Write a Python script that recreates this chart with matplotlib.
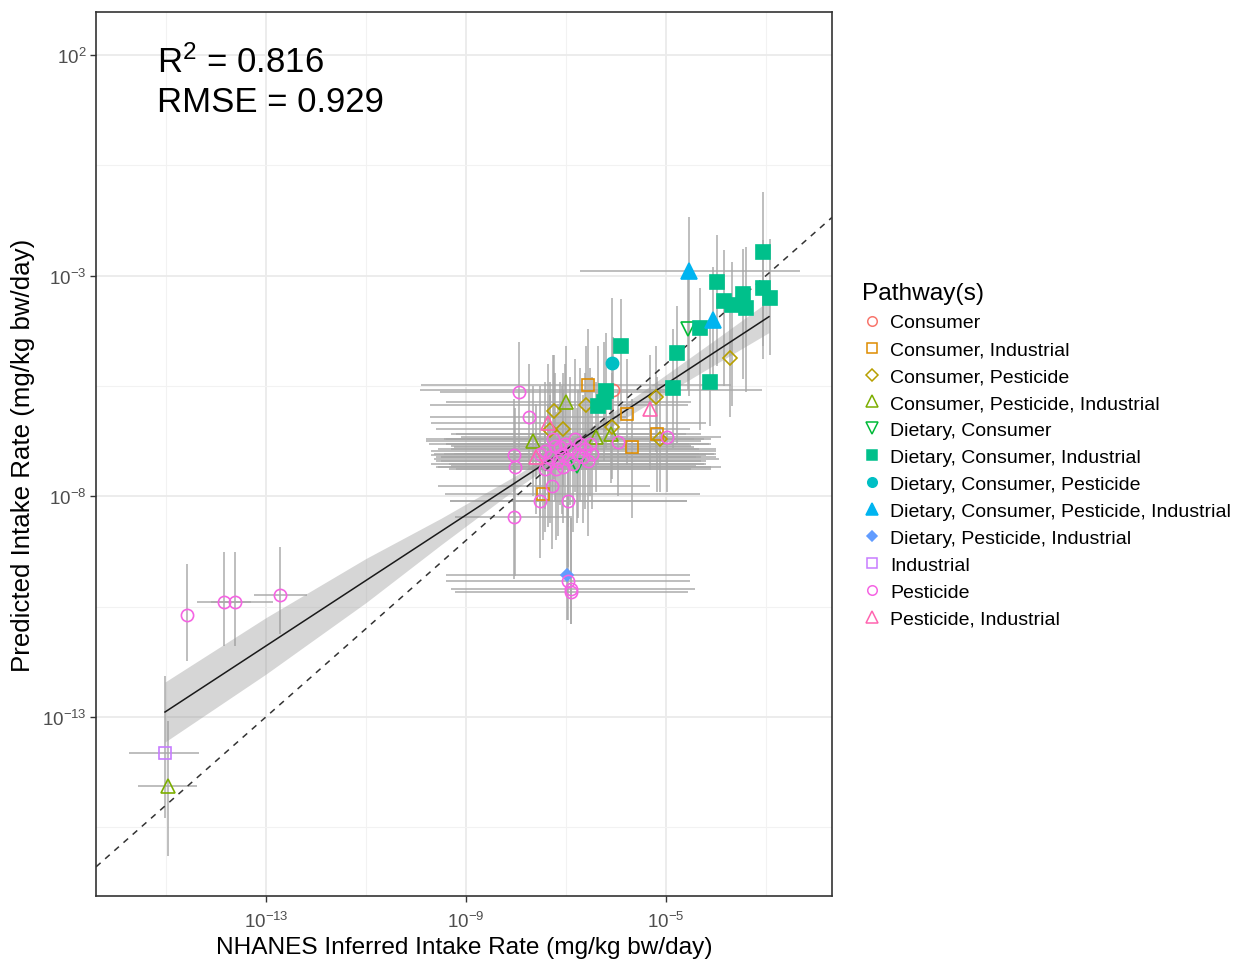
import numpy as np
import matplotlib
matplotlib.use('Agg')
import matplotlib.pyplot as plt
from matplotlib.lines import Line2D

plt.rcParams['font.family'] = ['Liberation Sans', 'DejaVu Sans']
plt.rcParams['mathtext.fontset'] = 'custom'
plt.rcParams['mathtext.rm'] = 'Liberation Sans'
plt.rcParams['mathtext.it'] = 'Liberation Sans:italic'
plt.rcParams['mathtext.bf'] = 'Liberation Sans:bold'

# ---------------- categories ----------------
pathway_labels = ['Consumer', 'Consumer, Industrial', 'Consumer, Pesticide',
                  'Consumer, Pesticide, Industrial', 'Dietary, Consumer',
                  'Dietary, Consumer, Industrial', 'Dietary, Consumer, Pesticide',
                  'Dietary, Consumer, Pesticide, Industrial', 'Dietary, Pesticide, Industrial',
                  'Industrial', 'Pesticide', 'Pesticide, Industrial']
pathway_codes = ['C', 'CI', 'CP', 'CPI', 'DC', 'DCI', 'DCP', 'DCPI', 'DPI', 'I', 'P', 'PI']

# ---------------- data (log10 mg/kg bw/day) ----------------
nan = np.nan
point_pathway = [
    'P', 'P', 'P', 'P', 'I', 'CPI',
    'DCI', 'DCI', 'DCI', 'DCI', 'DCI', 'DCI', 'DCI', 'DCI', 'DCI', 'DCI', 'DCI', 'DCI', 'DCI', 'DCI', 'DCI', 'DCI',
    'DCPI', 'DCPI', 'DC', 'DC', 'DCP',
    'CP', 'CP', 'CP', 'CP', 'CP', 'CP', 'CP', 'CP',
    'CPI', 'CPI', 'CPI', 'CPI',
    'PI', 'PI', 'PI',
    'CI', 'CI', 'CI', 'CI', 'CI',
    'C', 'DPI',
    'P', 'P', 'P', 'P', 'P', 'P', 'P', 'P', 'P', 'P', 'P', 'P', 'P',
    'P', 'P', 'P', 'P', 'P', 'P', 'P', 'P', 'P', 'P', 'P', 'P',
    'P', 'P', 'P', 'P', 'P', 'P', 'P', 'P', 'P', 'P', 'P', 'P',
]
nhanes_log = [
    -14.58, -13.84, -13.62, -12.72, -15.02, -14.96,
    -3.06, -3.06, -2.92, -3.46, -3.40, -3.68, -3.84, -3.98, -4.32, -4.78, -4.12, -4.86, -5.90, -6.20, -6.24, -6.36,
    -4.54, -4.06, -4.56, -6.78, -6.08,
    -3.72, -5.20, -6.60, -7.24, -7.06, -6.08, -5.12, -7.32,
    -7.00, -7.66, -6.40, -6.10,
    -5.32, -7.36, -7.60,
    -6.56, -5.78, -5.68, -5.18, -7.46,
    -6.06, -6.98,
    -7.94, -7.74, -4.98, -5.96, -8.04, -8.02, -7.28, -7.52, -6.96, -8.04, -6.96, -6.90, -6.90,
    -7.42, -7.32, -7.22, -7.16, -7.08, -7.02, -6.96, -6.92, -6.86, -6.82, -6.76, -6.72,
    -6.66, -6.62, -6.56, -6.52, -7.36, -7.20, -7.06, -7.52, -7.42, -6.48, -7.26, -7.12,
]
predicted_log = [
    -10.69, -10.39, -10.39, -10.23, -13.82, -14.56,
    -2.46, -3.29, -3.50, -3.41, -3.73, -3.66, -3.57, -3.14, -4.18, -4.75, -5.40, -5.54, -4.59, -5.61, -5.86, -5.95,
    -2.89, -4.00, -4.20, -7.31, -4.97,
    -4.86, -5.74, -5.93, -6.06, -6.47, -6.42, -6.70, -6.50,
    -5.86, -6.74, -6.65, -6.58,
    -6.02, -6.33, -7.10,
    -5.47, -6.13, -6.88, -6.58, -7.94,
    -5.59, -9.78,
    -5.63, -6.20, -6.65, -6.76, -7.06, -7.33, -7.76, -8.10, -8.10, -8.46, -9.92, -10.10, -10.17,
    -6.97, -7.10, -6.85, -7.20, -7.04, -6.81, -7.15, -6.92, -7.26, -6.70, -7.04, -6.81,
    -7.10, -6.92, -7.20, -6.81, -7.26, -7.38, -7.33, -7.04, -7.38, -7.04, -6.70, -6.88,
]
nhanes_lo = [
    nan, -14.38, -14.10, -13.24, -15.74, -15.56,
    nan, nan, nan, nan, nan, nan, nan, nan, nan, nan, nan, nan, nan, nan, -9.40, nan,
    -6.72, nan, nan, -9.30, nan,
    nan, nan, -9.72, nan, -9.60, nan, -9.40, nan,
    nan, -9.80, nan, -9.20,
    nan, -9.70, -9.50,
    -9.90, nan, nan, -9.30, -9.42,
    -9.92, -9.40,
    -9.52, -9.72, -9.10, nan, -9.70, -9.60, -9.56, -9.32, -9.32, -9.22, -9.40, -9.30, -9.22,
    -9.70, -9.50, -9.30, -9.60, -9.20, -9.40, -9.65, -9.55, -9.35, -9.45, -9.25, -9.75,
    -9.60, -9.30, -9.50, -9.40, -9.70, -9.20, -9.55, -9.65, -9.35, -9.45, -9.80, -9.25,
]
nhanes_hi = [
    nan, -13.30, -12.86, -12.18, -14.34, -14.38,
    nan, nan, nan, nan, nan, nan, nan, nan, nan, nan, nan, nan, nan, nan, -4.50, nan,
    -2.32, nan, nan, -4.40, nan,
    nan, nan, -4.56, nan, -4.52, nan, -4.10, nan,
    nan, -4.30, nan, -4.60,
    nan, -4.20, -4.00,
    -3.70, nan, nan, -4.30, -4.32,
    -3.08, -4.52,
    -4.78, -5.80, -3.90, nan, -4.20, -4.10, -5.32, -4.58, -4.58, -6.88, -4.52, -4.42, -4.56,
    -4.00, -4.30, -4.50, -4.20, -4.60, -4.10, -3.95, -4.35, -4.25, -4.45, -4.05, -4.15,
    -4.40, -4.00, -4.30, -4.55, -4.20, -4.10, -3.90, -4.35, -4.50, -4.00, -4.25, -4.45,
]
predicted_lo = [
    -11.73, -11.39, -11.39, -11.12, -15.30, -16.15,
    -4.88, -4.60, -4.81, -5.34, -5.63, -5.95, -5.50, -5.04, -6.50, -6.80, -6.40, -6.90, -6.00, -6.90, -7.20, -7.30,
    -5.72, -5.60, -5.60, -8.60, -6.40,
    -6.20, -7.00, -7.40, -7.60, -7.80, -7.60, -7.90, -7.90,
    -7.20, -8.00, -7.90, -7.70,
    -7.40, -7.70, -8.40,
    -6.80, -7.30, -8.50, -7.90, -9.00,
    -6.80, -10.80,
    -6.90, -7.40, -7.90, -8.00, -8.40, -9.80, -9.20, -9.40, -9.60, -9.87, -10.80, -10.90, -10.90,
    -8.30, -8.60, -8.10, -8.90, -8.40, -8.00, -8.70, -8.20, -8.80, -7.90, -8.50, -8.10,
    -8.60, -8.30, -8.90, -8.00, -8.70, -9.00, -8.60, -8.50, -8.80, -8.30, -7.90, -8.20,
]
predicted_hi = [
    -9.53, -9.26, -9.26, -9.15, -12.07, -13.10,
    -1.10, -2.20, -2.16, -2.39, -2.34, -2.68, -2.43, -2.09, -3.29, -3.68, -3.97, -4.20, -3.52, -4.30, -4.50, -4.60,
    -1.66, -2.80, -3.00, -6.00, -3.50,
    -3.60, -4.60, -4.60, -4.80, -5.20, -5.20, -5.60, -5.40,
    -4.60, -5.50, -5.40, -5.50,
    -4.80, -5.00, -5.90,
    -4.20, -4.90, -5.80, -5.30, -6.80,
    -4.40, -8.00,
    -4.50, -5.00, -5.50, -5.60, -5.80, -6.00, -6.40, -6.80, -6.90, -7.20, -8.00, -8.50, -8.50,
    -5.40, -5.70, -5.20, -5.90, -5.50, -5.00, -5.80, -5.30, -6.00, -4.90, -5.60, -5.10,
    -5.70, -5.20, -6.00, -5.10, -5.90, -6.10, -5.60, -5.50, -6.20, -5.30, -4.80, -5.40,
]

# regression line and its credible band (log10 units)
fit_x = [-15.02, -2.94]
fit_y = [-12.89, -3.93]
band_x = [-15.02, -13.0, -11.0, -9.5, -8.0, -7.0, -5.5, -4.0, -2.94]
band_lo = [-13.57, -12.03, -10.41, -9.10, -7.83, -7.06, -6.01, -5.00, -4.29]
band_hi = [-12.21, -10.75, -9.41, -8.50, -7.53, -6.82, -5.65, -4.44, -3.57]

x_ticks = [-13, -9, -5]
y_ticks = [2, -3, -8, -13]
r2_text = '0.816'
rmse_text = '0.929'

# ---------------- styles ----------------
colors = ['#F8766D', '#DE8C00', '#B79F00', '#7CAE00', '#00BA38', '#00C08B',
          '#00BFC4', '#00B4F0', '#619CFF', '#C77CFF', '#F564E3', '#FF64B0']
markers = ['o', 's', 'D', '^', 'v', 's', 'o', '^', 'D', 's', 'o', '^']
filled = [False, False, False, False, False, True, True, True, True, False, False, False]
msizes = [8.8, 8.8, 7.2, 10.5, 10.5, 9.8, 8.8, 11.0, 6.2, 8.8, 8.8, 10.5]

W, H = 1238, 962
fig = plt.figure(figsize=(W / 100, H / 100), dpi=100)
ax = fig.add_axes([96 / W, 1 - 897 / H, (832 - 96) / W, (897 - 13) / H])
ax.set_xscale('log')
ax.set_yscale('log')
ax.set_xlim(10 ** -16.4, 10 ** -1.68)
ax.set_ylim(10 ** -17.06, 10 ** 2.975)

# grid
for t in x_ticks:
    ax.axvline(10.0 ** t, color='#EBEBEB', lw=1.3, zorder=0)
for t in [-15, -11, -7, -3]:
    ax.axvline(10.0 ** t, color='#F2F2F2', lw=0.8, zorder=0)
for t in y_ticks:
    ax.axhline(10.0 ** t, color='#EBEBEB', lw=1.3, zorder=0)
for t in [-0.5, -5.5, -10.5, -15.5]:
    ax.axhline(10.0 ** t, color='#F2F2F2', lw=0.8, zorder=0)

x = 10.0 ** np.array(nhanes_log)
y = 10.0 ** np.array(predicted_log)
xl = 10.0 ** np.array(nhanes_lo)
xh = 10.0 ** np.array(nhanes_hi)
yl = 10.0 ** np.array(predicted_lo)
yh = 10.0 ** np.array(predicted_hi)

hm = ~np.isnan(xl)
ax.hlines(y[hm], xl[hm], xh[hm], color='#A8A8A8', lw=1.4, alpha=0.75, zorder=1)
ax.vlines(x, yl, yh, color='#A8A8A8', lw=1.4, alpha=0.75, zorder=1)

# band & fit line
ax.fill_between(10.0 ** np.array(band_x), 10.0 ** np.array(band_lo), 10.0 ** np.array(band_hi),
                color='#999999', alpha=0.4, lw=0, zorder=2)
ax.plot(10.0 ** np.array(fit_x), 10.0 ** np.array(fit_y), color='#1A1A1A', lw=1.1, zorder=3)
ax.axline((1e-10, 1e-10), (1.0, 1.0), color='#333333', lw=1.1, ls=(0, (4, 4)), zorder=3)

# points
codes = np.array(point_pathway)
for i, code in enumerate(pathway_codes):
    m = codes == code
    if not m.any():
        continue
    c = colors[i]
    ax.plot(x[m], y[m], linestyle='none', marker=markers[i], markersize=msizes[i],
            markerfacecolor=c if filled[i] else 'none', markeredgecolor=c,
            markeredgewidth=1.2, zorder=4)

# axes style
for s in ax.spines.values():
    s.set_color('#333333')
    s.set_linewidth(1.2)
ax.set_xticks([10.0 ** t for t in x_ticks])
ax.set_xticklabels([r'$10^{%d}$' % t for t in x_ticks])
ax.set_yticks([10.0 ** t for t in y_ticks])
ax.set_yticklabels([r'$10^{%d}$' % t for t in y_ticks])
ax.minorticks_off()
ax.tick_params(axis='both', which='major', length=4, width=1.0, color='#333333',
               labelsize=13.5, labelcolor='#4D4D4D', pad=3)
ax.tick_params(axis='x', pad=7)
ax.set_xlabel('NHANES Inferred Intake Rate (mg/kg bw/day)', fontsize=17.6, color='black', labelpad=3)
ax.set_ylabel('Predicted Intake Rate (mg/kg bw/day)', fontsize=18.6, color='black', labelpad=5)

ax.text(157 / W, 1 - 73 / H, r'R$^2$ = ' + r2_text, transform=fig.transFigure,
        fontsize=25, va='baseline', ha='left')
ax.text(157 / W, 1 - 112 / H, 'RMSE = ' + rmse_text, transform=fig.transFigure,
        fontsize=25, va='baseline', ha='left')

# legend
handles = []
for i, lab in enumerate(pathway_labels):
    c = colors[i]
    handles.append(Line2D([], [], linestyle='none', marker=markers[i], markersize=msizes[i] * 0.78,
                          markerfacecolor=c if filled[i] else 'none', markeredgecolor=c,
                          markeredgewidth=1.1))
leg = fig.legend(handles, pathway_labels, loc='upper left', bbox_to_anchor=(845 / W, 1 - 266 / H),
                 frameon=False, fontsize=14, title='Pathway(s)', title_fontsize=17.6,
                 handlelength=1.0, handletextpad=0.42, labelspacing=0.48, borderpad=0.4)
leg._legend_box.align = 'left'

fig.savefig('out.png', dpi=100)
